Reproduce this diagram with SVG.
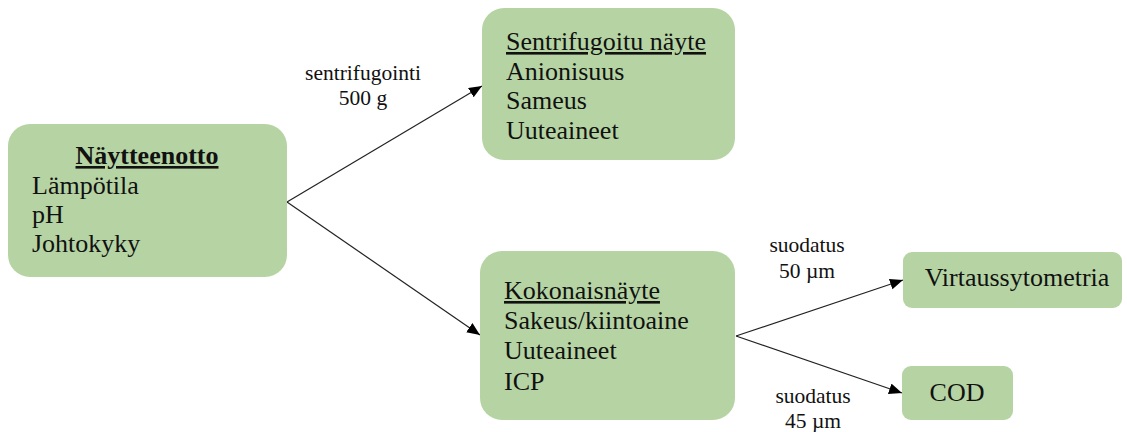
<svg xmlns="http://www.w3.org/2000/svg" width="1127" height="432" viewBox="0 0 1127 432">
  <defs>
    <marker id="arrow" markerUnits="userSpaceOnUse" markerWidth="14" markerHeight="12" refX="13" refY="5.5" orient="auto">
      <path d="M0,0 L13,5.5 L0,11 z" fill="#000"/>
    </marker>
    <style>
      .box { fill: #b6d4a3; }
      .t { font-family: "Liberation Serif", "Times New Roman", serif; font-size: 26px; fill: #111; }
      .lbl { font-family: "Liberation Serif", "Times New Roman", serif; font-size: 21.5px; fill: #111; text-anchor: middle; }
      .u { text-decoration: underline; }
      .edge { stroke: #222; stroke-width: 1.2; fill: none; marker-end: url(#arrow); }
    </style>
  </defs>

  <!-- connectors -->
  <g id="connectors">
    <path class="edge" d="M287,202 L482,86"/>
    <path class="edge" d="M287,202 L480,335"/>
    <path class="edge" d="M736,336 L903,280"/>
    <path class="edge" d="M736,336 L902,393"/>
    <text class="lbl" x="363" y="80">sentrifugointi</text>
    <text class="lbl" x="363" y="105">500 g</text>
    <text class="lbl" x="807" y="252">suodatus</text>
    <text class="lbl" x="807" y="278">50 µm</text>
    <text class="lbl" x="813" y="403">suodatus</text>
    <text class="lbl" x="813" y="428">45 µm</text>
  </g>

  <!-- sampling -->
  <g id="naytteenotto">
    <rect class="box" x="8" y="124" width="279" height="153" rx="22"/>
    <text class="t u" x="147" y="164" text-anchor="middle" font-weight="bold">Näytteenotto</text>
    <text class="t" x="32" y="194">Lämpötila</text>
    <text class="t" x="32" y="223">pH</text>
    <text class="t" x="32" y="252">Johtokyky</text>
  </g>

  <!-- centrifuged sample -->
  <g id="sentrifugoitu">
    <rect class="box" x="482" y="8" width="253" height="152" rx="22"/>
    <text class="t u" x="506" y="50">Sentrifugoitu näyte</text>
    <text class="t" x="506" y="80">Anionisuus</text>
    <text class="t" x="506" y="109">Sameus</text>
    <text class="t" x="506" y="139">Uuteaineet</text>
  </g>

  <!-- whole sample -->
  <g id="kokonaisnayte">
    <rect class="box" x="480" y="251" width="255" height="169" rx="22"/>
    <text class="t u" x="504" y="299">Kokonaisnäyte</text>
    <text class="t" x="504" y="329">Sakeus/kiintoaine</text>
    <text class="t" x="504" y="359">Uuteaineet</text>
    <text class="t" x="504" y="390">ICP</text>
  </g>

  <!-- flow cytometry -->
  <g id="virtaussytometria">
    <rect class="box" x="903" y="252" width="219" height="56" rx="9"/>
    <text class="t" x="1017" y="286" text-anchor="middle">Virtaussytometria</text>
  </g>

  <!-- COD -->
  <g id="cod">
    <rect class="box" x="902" y="366" width="111" height="54" rx="9"/>
    <text class="t" x="957" y="401" text-anchor="middle">COD</text>
  </g>
</svg>
